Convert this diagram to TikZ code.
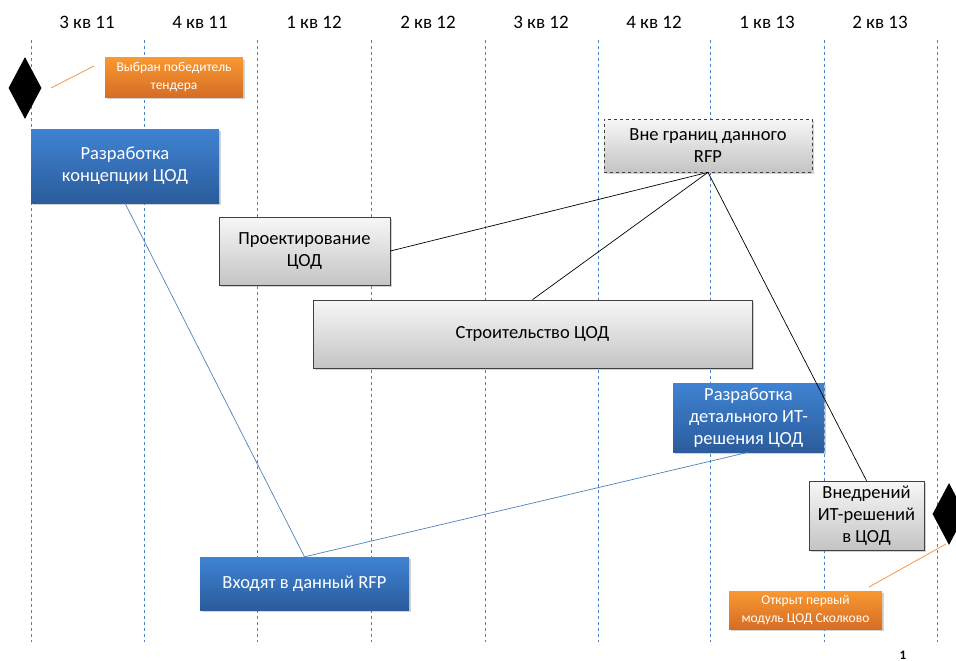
\documentclass[tikz,border=0pt]{standalone}
\usepackage{fontspec}
\setmainfont{Carlito}
\usepackage{tikz}
\usetikzlibrary{shapes.geometric,shadows}

\definecolor{gridblue}{HTML}{4F81BD}
\definecolor{bluetop}{HTML}{3F83D2}
\definecolor{bluebot}{HTML}{2B5C9C}
\definecolor{orangetop}{HTML}{F99830}
\definecolor{orangebot}{HTML}{D56D26}
\definecolor{greytop}{HTML}{F7F7F7}
\definecolor{greybot}{HTML}{C4C4C4}
\definecolor{orangeline}{HTML}{F79646}

\tikzset{
	quarter/.style={font=\fontsize{19}{21}\selectfont, inner sep=0pt},
	gridline/.style={gridblue, line width=0.7pt, dash pattern=on 3pt off 3pt},
	bluebox/.style={shading=axis, top color=bluetop, bottom color=bluebot, text=white, align=center,
		font=\fontsize{18.5}{22}\selectfont, inner sep=0pt, drop shadow={opacity=0.35, shadow xshift=2pt, shadow yshift=-2pt}},
	greybox/.style={draw=black!75, line width=0.7pt, shading=axis, top color=greytop, bottom color=greybot, align=center,
		font=\fontsize{18.5}{22}\selectfont, inner sep=0pt, drop shadow={opacity=0.35, shadow xshift=2pt, shadow yshift=-2pt}},
	orangebox/.style={shading=axis, top color=orangetop, bottom color=orangebot, text=white, align=center,
		font=\fontsize{13.5}{18}\selectfont, inner sep=0pt, drop shadow={opacity=0.35, shadow xshift=2pt, shadow yshift=-2pt}},
	milestone/.style={diamond, fill=black, inner sep=0pt, minimum width=33pt, minimum height=62pt},
}

\begin{document}
\begin{tikzpicture}[x=1pt, y=-1pt]
			%%%%% START %%%%%
			\useasboundingbox (0, 0) rectangle (956, 661);
			
			\draw[gridline] (31, 40) -- (31, 642);
			\draw[gridline] (144, 40) -- (144, 642);
			\draw[gridline] (257, 40) -- (257, 642);
			\draw[gridline] (371, 40) -- (371, 642);
			\draw[gridline] (485, 40) -- (485, 642);
			\draw[gridline] (598, 40) -- (598, 642);
			\draw[gridline] (710, 40) -- (710, 642);
			\draw[gridline] (824, 40) -- (824, 642);
			\draw[gridline] (937, 40) -- (937, 642);
			
			\node[quarter] (q1) at (87, 22) {3 кв 11};
			\node[quarter] (q2) at (200, 22) {4 кв 11};
			\node[quarter] (q3) at (314, 22) {1 кв 12};
			\node[quarter] (q4) at (428, 22) {2 кв 12};
			\node[quarter] (q5) at (541, 22) {3 кв 12};
			\node[quarter] (q6) at (654, 22) {4 кв 12};
			\node[quarter] (q7) at (767, 22) {1 кв 13};
			\node[quarter] (q8) at (880, 22) {2 кв 13};
			
			% milestones
			\node[milestone] (start) at (25, 88) {};
			\node[orangebox, minimum width=138pt, minimum height=39pt] (winner) at (174, 77.5) {Выбран победитель\\тендера};
			\coordinate (winnerA) at (51, 88);
			\coordinate (winnerB) at (94, 66);
			\draw[orangeline, line width=0.8pt] (winnerA) -- (winnerB);
			
			\node[milestone] (finish) at (949, 514) {};
			\node[orangebox, minimum width=153pt, minimum height=38pt] (opened) at (805.5, 610) {Открыт первый\\модуль ЦОД Сколково};
			\coordinate (openedA) at (946, 544);
			\coordinate (openedB) at (869, 587);
			\draw[orangeline, line width=0.8pt] (openedA) -- (openedB);
			
			% tasks
			\node[bluebox, minimum width=188pt, minimum height=74pt] (concept) at (125, 166) {Разработка\\концепции ЦОД};
			\node[greybox, dashed, minimum width=208pt, minimum height=53pt] (outside) at (708, 145.5) {Вне границ данного\\RFP};
			\node[greybox, minimum width=171pt, minimum height=68pt] (design) at (304.5, 251) {Проектирование\\ЦОД};
			\node[greybox, minimum width=439pt, minimum height=68pt] (build) at (532.5, 334) {Строительство ЦОД};
			\node[bluebox, minimum width=151pt, minimum height=69pt] (detail) at (748.5, 417.5) {Разработка\\детального ИТ-\\решения ЦОД};
			\node[greybox, minimum width=115pt, minimum height=69pt] (deploy) at (866.5, 515.5) {Внедрений\\ИТ-решений\\в ЦОД};
			\node[bluebox, minimum width=209pt, minimum height=53pt] (inrfp) at (304.5, 583.5) {Входят в данный RFP};
			
			% links
			\draw[line width=0.7pt] (outside.south) -- (design.east);
			\draw[line width=0.7pt] (outside.south) -- (build.north);
			\draw[line width=0.7pt] (outside.south) -- (deploy.north);
			\draw[gridblue, line width=0.7pt] (concept.south) -- (inrfp.north);
			\draw[gridblue, line width=0.7pt] (detail.south) -- (inrfp.north);
			
			\node[font=\bfseries\fontsize{13}{14}\selectfont] (page) at (903, 655) {1};
			%%%%% END %%%%%
\end{tikzpicture}
\end{document}
